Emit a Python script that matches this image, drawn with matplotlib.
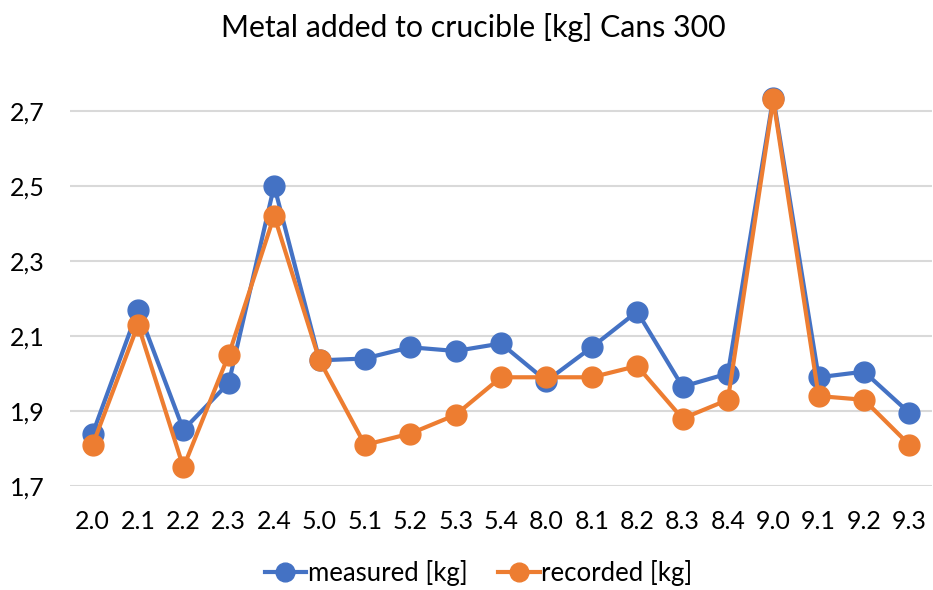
import matplotlib
matplotlib.use("Agg")
import matplotlib.pyplot as plt
from matplotlib.ticker import FuncFormatter

plt.rcParams['font.family'] = ['Lato', 'DejaVu Sans']

categories = ["2.0", "2.1", "2.2", "2.3", "2.4", "5.0", "5.1", "5.2", "5.3", "5.4",
              "8.0", "8.1", "8.2", "8.3", "8.4", "9.0", "9.1", "9.2", "9.3"]
measured = [1.84, 2.17, 1.85, 1.975, 2.50, 2.035, 2.04, 2.07, 2.06, 2.08,
            1.98, 2.07, 2.165, 1.965, 2.00, 2.735, 1.99, 2.005, 1.895]
recorded = [1.81, 2.13, 1.75, 2.05, 2.42, 2.035, 1.81, 1.84, 1.89, 1.99,
            1.99, 1.99, 2.02, 1.88, 1.93, 2.73, 1.94, 1.93, 1.81]
yticks = [1.7, 1.9, 2.1, 2.3, 2.5, 2.7]

BLUE = "#4472C4"
ORANGE = "#ED7D31"

fig = plt.figure(figsize=(9.33, 5.90), dpi=100)
ax = fig.add_axes([0.075, 0.176, 0.924, 0.70])

x = list(range(len(categories)))
ax.plot(x, measured, color=BLUE, lw=3, marker="o", ms=15, label="measured [kg]",
        solid_joinstyle="round", zorder=3)
ax.plot(x, recorded, color=ORANGE, lw=3, marker="o", ms=15, label="recorded [kg]",
        solid_joinstyle="round", zorder=4)

ax.set_xlim(-0.5, len(categories) - 0.5)
ax.set_ylim(1.7, 2.8)
ax.set_yticks(yticks)
ax.yaxis.set_major_formatter(FuncFormatter(lambda v, p: f"{v:.1f}".replace(".", ",")))
ax.set_xticks(x)
ax.set_xticklabels(categories)
ax.grid(axis="y", color="#D9D9D9", lw=1.5, zorder=0)
ax.set_axisbelow(True)
for s in ax.spines.values():
    s.set_visible(False)
ax.tick_params(axis="both", length=0, labelsize=18, colors="#000000")
ax.tick_params(axis="x", pad=17)
ax.tick_params(axis="y", pad=18)

fig.suptitle("Metal added to crucible [kg] Cans 300", fontsize=21.8, x=0.507, y=0.978)

fig.legend(loc="center", bbox_to_anchor=(0.513, 0.029), ncol=2, frameon=False,
           fontsize=18.5, handlelength=1.63, columnspacing=1.2, handletextpad=0.05,
           markerscale=0.9)

fig.savefig("out.png", dpi=100)
